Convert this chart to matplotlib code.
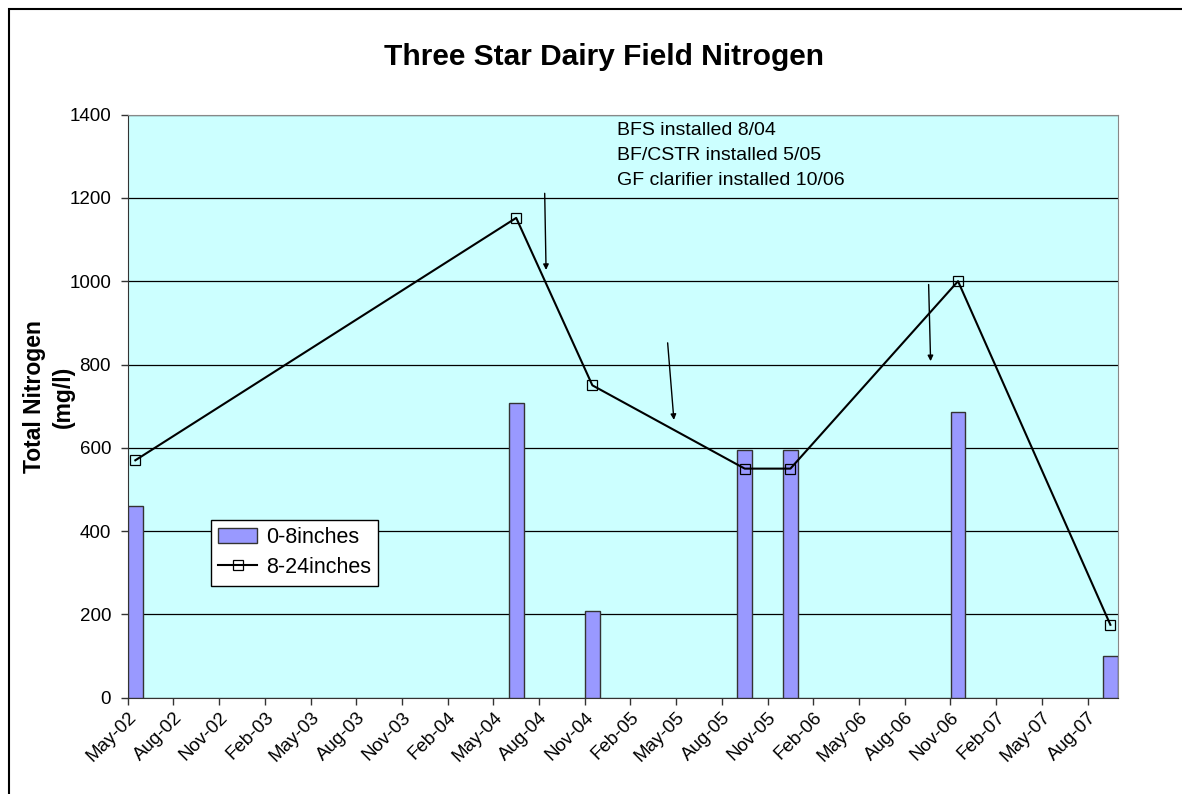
import numpy as np
import pandas as pd
import matplotlib
matplotlib.use('Agg')
import matplotlib.pyplot as plt
from matplotlib.patches import Rectangle

plt.rcParams['font.family'] = ['Liberation Sans', 'DejaVu Sans']

# sampling months and nitrogen values (mg/l)
months = ['2002-05', '2004-06', '2004-11', '2005-09', '2005-12', '2006-11', '2007-09']
shallow = [460, 708, 208, 595, 595, 685, 100]     # 0-8 inches
deep = [570, 1152, 750, 550, 550, 1000, 175]       # 8-24 inches

start = pd.Period('2002-05', freq='M')
x = np.array([(pd.Period(m, freq='M') - start).n for m in months]) + 0.5
n_months = 65

tick_idx = np.arange(0, 64, 3)
tick_labels = [(start + int(i)).strftime('%b-%y') for i in tick_idx]

notes = 'BFS installed 8/04\nBF/CSTR installed 5/05\nGF clarifier installed 10/06'
# arrows: (x_from, y_from, x_to, y_to) in month index / mg/l
arrows = [(27.37, 1211, 27.46, 1027),
          (35.44, 852, 35.85, 667),
          (52.57, 992, 52.70, 808)]

fig = plt.figure(figsize=(11.82, 7.94), dpi=100)
ax = fig.add_axes([127.7/1182, 1-697.7/794, (1118-127.7)/1182, (697.7-114.6)/794])
ax.set_facecolor('#CCFFFF')

bars = ax.bar(x, shallow, width=0.96, color='#9999FF', edgecolor='#333333', linewidth=1,
              label='0-8inches', zorder=3)
line, = ax.plot(x, deep, color='black', lw=1.5, marker='s', markersize=6.5,
                markerfacecolor='none', markeredgecolor='black', markeredgewidth=0.9,
                label='8-24inches', zorder=4)

ax.set_xlim(0, n_months)
ax.set_ylim(0, 1400)
ax.set_yticks(np.arange(0, 1401, 200))
ax.yaxis.grid(True, color='black', linewidth=0.9)
ax.set_axisbelow(True)
ax.set_xticks(tick_idx)
ax.set_xticklabels(tick_labels, rotation=45, ha='right', rotation_mode='anchor')
ax.tick_params(axis='both', labelsize=13.5, length=5, width=1, color='#333333', direction='out')
ax.tick_params(axis='x', pad=3)
ax.tick_params(axis='y', pad=7)

for s in ['top', 'right']:
    ax.spines[s].set_color('#888888')
for s in ['left', 'bottom']:
    ax.spines[s].set_color('#333333')

for x0, y0, x1, y1 in arrows:
    ax.annotate('', xy=(x1, y1), xytext=(x0, y0),
                arrowprops=dict(arrowstyle='-|>', color='black', lw=1, mutation_scale=8,
                                shrinkA=0, shrinkB=0))

ax.text((617-127.7)/990.3, (697.7-122)/583.1, notes, transform=ax.transAxes,
        fontsize=14, va='top', ha='left', linespacing=1.62)

leg = ax.legend([bars, line], ['0-8inches', '8-24inches'],
                loc='upper left', bbox_to_anchor=(0.084, 0.305), borderaxespad=0,
                fontsize=15.5, frameon=True, fancybox=False, edgecolor='black',
                framealpha=1, handlelength=1.8, handletextpad=0.4, borderpad=0.35,
                labelspacing=0.4)
leg.get_frame().set_linewidth(1)

fig.text(604/1182, 1-57/794, 'Three Star Dairy Field Nitrogen', fontsize=21.5,
         fontweight='bold', ha='center', va='center')
fig.text(49/1182, 1-397/794, 'Total Nitrogen\n(mg/l)', fontsize=16.5, fontweight='bold',
         rotation=90, ha='center', va='center', multialignment='center', linespacing=1.35)

# chart border (right and bottom sides fall outside the image)
fig.add_artist(Rectangle((8.7/1182, -0.1), 1.2, 1 - 9.5/794 + 0.1, transform=fig.transFigure,
                         fill=False, edgecolor='black', linewidth=1.5))

fig.savefig('out.png', dpi=100)
